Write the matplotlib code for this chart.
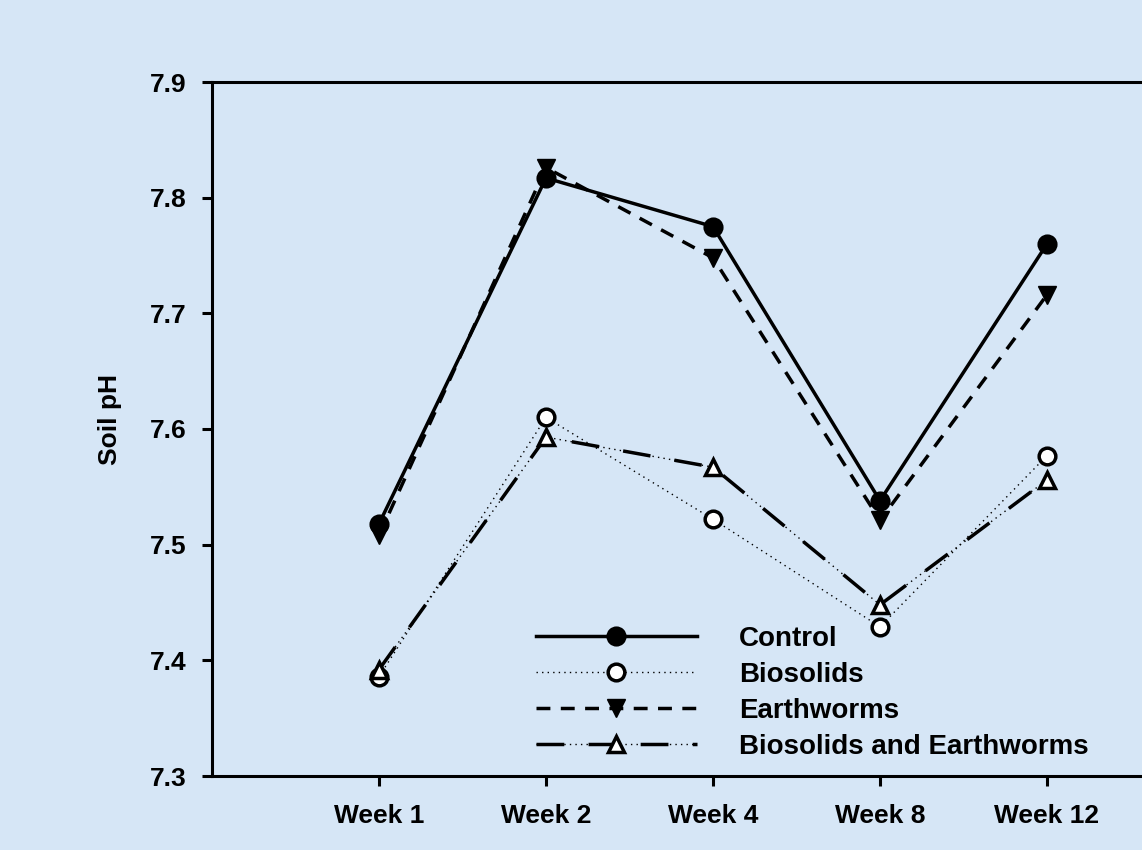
import numpy as np
import matplotlib.pyplot as plt
from matplotlib.lines import Line2D

plt.rcParams['font.family'] = ['Liberation Sans', 'DejaVu Sans']
plt.rcParams['font.weight'] = 'bold'

weeks = ['Week 1', 'Week 2', 'Week 4', 'Week 8', 'Week 12']
control = [7.518, 7.817, 7.775, 7.538, 7.760]
biosolids = [7.386, 7.610, 7.522, 7.429, 7.577]
earthworms = [7.508, 7.826, 7.748, 7.521, 7.716]
bio_worms = [7.392, 7.593, 7.567, 7.448, 7.556]

bg = '#d6e6f6'
fs = 19
fig = plt.figure(figsize=(11.42, 8.5), dpi=100, facecolor=bg)
ax = fig.add_axes([212/1142, 74/850, 1002/1142, 694/850])
ax.set_facecolor('none')

x = np.arange(1, len(weeks) + 1)
ms = 12
mew = 2.5

ax.plot(x, control, '-', color='black', lw=2.5, marker='o', ms=ms,
        mfc='black', mec='black', mew=mew, zorder=4)
ax.plot(x, biosolids, color='black', lw=1.0, dashes=(1, 3), marker='o', ms=ms,
        mfc='white', mec='black', mew=mew, zorder=3)
ax.plot(x, earthworms, color='black', lw=2.5, dashes=(4, 3), marker='v',
        ms=ms + 1, mfc='black', mec='black', mew=1, zorder=4)
# biosolids + earthworms: thin dots underneath long thick dashes
ax.plot(x, bio_worms, color='black', lw=1.0, dashes=(1, 3), zorder=2)
ax.plot(x, bio_worms, color='black', lw=2.5, dashes=(8, 7), marker='^',
        ms=ms, mfc='white', mec='black', mew=mew, zorder=3)

ax.set_xlim(0, 6)
ax.set_ylim(7.3, 7.9)
ax.set_xticks(x)
ax.set_xticklabels(weeks)
ax.set_yticks([7.3, 7.4, 7.5, 7.6, 7.7, 7.8, 7.9])
ax.tick_params(axis='both', direction='out', length=7, width=2.2,
               labelsize=fs, colors='black')
ax.tick_params(axis='x', pad=13)
ax.tick_params(axis='y', pad=11)
for s in ['left', 'top', 'bottom']:
    ax.spines[s].set_linewidth(2.2)
ax.spines['right'].set_visible(False)

ax.set_ylabel('Soil pH', fontsize=fs, fontweight='bold')
ax.yaxis.set_label_coords(-0.09, 0.513)

h1 = Line2D([], [], color='black', lw=2.5, marker='o', ms=ms, mfc='black', mew=mew)
h2 = Line2D([], [], color='black', lw=1.0, dashes=(1, 3), marker='o', ms=ms, mfc='white', mec='black', mew=mew)
h3 = Line2D([], [], color='black', lw=2.5, dashes=(4, 3), marker='v', ms=ms + 1, mfc='black', mew=1)
h4a = Line2D([], [], color='black', lw=1.0, dashes=(1, 3))
h4b = Line2D([], [], color='black', lw=2.5, dashes=(8, 7), marker='^', ms=ms, mfc='white', mec='black', mew=mew)
fig.legend([h1, h2, h3, (h4a, h4b)],
           ['Control', 'Biosolids', 'Earthworms', 'Biosolids and Earthworms'],
           loc='upper left', bbox_to_anchor=(522/1142, 1 - 612/850),
           frameon=False, borderpad=0, handlelength=5.8,
           handletextpad=1.5, labelspacing=0.36, prop={'weight': 'bold', 'size': 20})

fig.savefig('out.png', dpi=100, facecolor=bg)
